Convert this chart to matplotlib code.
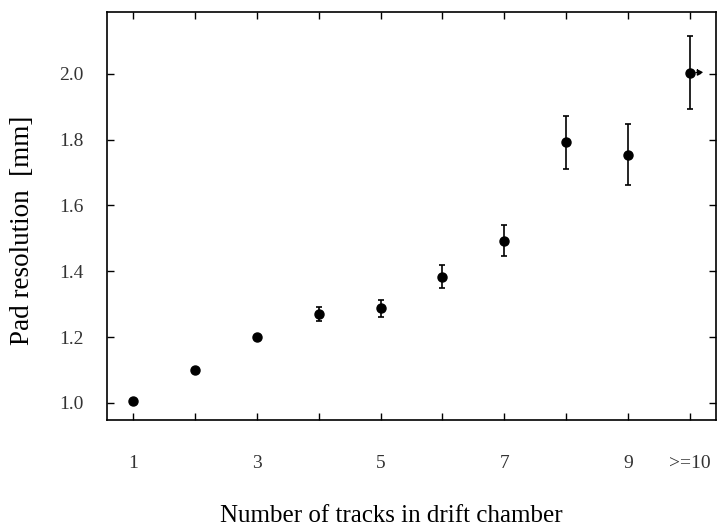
import numpy as np
import matplotlib.pyplot as plt

# Pad resolution vs. number of tracks in the drift chamber
n_tracks = [1, 2, 3, 4, 5, 6, 7, 8, 9, 10]
resolution = [1.005, 1.10, 1.20, 1.27, 1.288, 1.384, 1.493, 1.792, 1.754, 2.004]
res_err = [0.004, 0.004, 0.007, 0.02, 0.026, 0.034, 0.048, 0.08, 0.093, 0.11]

x_tick_pos = [1, 3, 5, 7, 9, 10]
x_tick_labels = ['1', '3', '5', '7', '9', '>=10']
y_ticks = [1.0, 1.2, 1.4, 1.6, 1.8, 2.0]

plt.rcParams['font.family'] = ['Liberation Serif', 'DejaVu Serif']

fig = plt.figure(figsize=(7.17, 5.27), dpi=100)
ax = fig.add_axes([107 / 717, 1 - 420 / 527, (716 - 107) / 717, (420 - 12) / 527])

ax.errorbar(n_tracks, resolution, yerr=res_err, fmt='o', color='black',
            markersize=6.5, elinewidth=1.2, capsize=2.5, capthick=1.2)

# last bin is open-ended: arrow to the right
ax.annotate('', xy=(10.27, resolution[-1]), xytext=(10.05, resolution[-1]),
            arrowprops=dict(arrowstyle='-|>', color='black', lw=1.0,
                            linestyle='--', mutation_scale=9))

ax.set_xlim(0.58, 10.42)
ax.set_ylim(0.948, 2.188)

ax.set_xticks(x_tick_pos)
ax.set_xticklabels(x_tick_labels)
ax.set_xticks([2, 4, 6, 8], minor=True)
ax.set_yticks(y_ticks)
ax.set_yticklabels([f'{v:.1f}' for v in y_ticks])

ax.tick_params(which='both', direction='in', top=True, right=True,
               length=5, width=1, labelsize=14, colors='black')
ax.tick_params(axis='x', which='both', pad=25)
ax.tick_params(axis='y', pad=17)
for lbl in ax.get_xticklabels() + ax.get_yticklabels():
    lbl.set_color('#333333')

for s in ax.spines.values():
    s.set_linewidth(1.2)

# axis titles placed in figure coordinates
fig.text(391 / 717, 1 - 516 / 527, 'Number of tracks in drift chamber',
         fontsize=18, ha='center', va='center')
fig.text(23 / 717, 1 - 230 / 527, 'Pad resolution  [mm]',
         fontsize=19.5, ha='center', va='center', rotation=90)

fig.savefig('out.png', dpi=100)
